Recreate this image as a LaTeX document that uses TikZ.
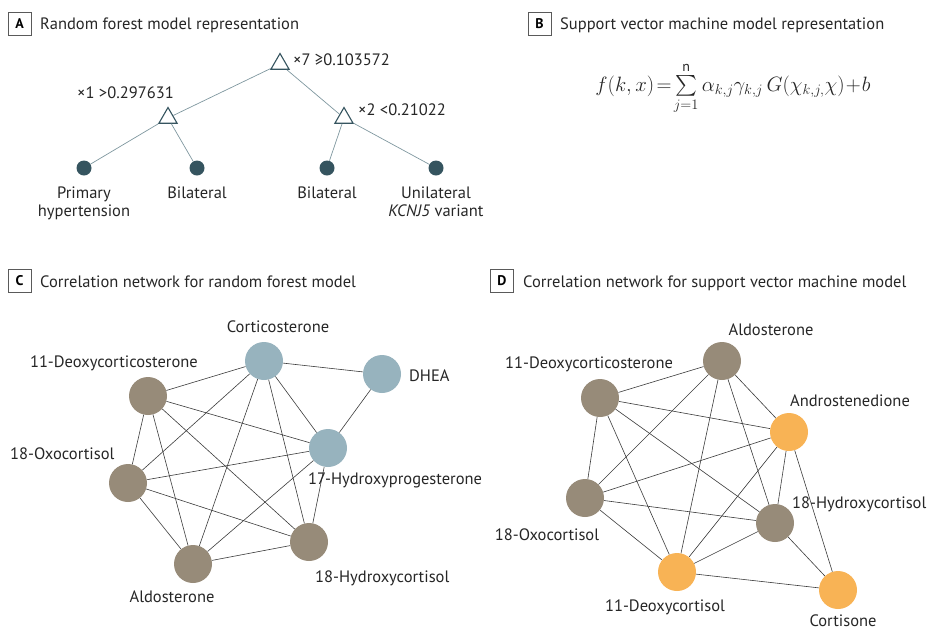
\documentclass[tikz,border=0pt]{standalone}
\usepackage{fontspec,amsmath}
\setmainfont{PT Sans}
\usetikzlibrary{shapes.geometric}

\definecolor{treeteal}{HTML}{35545F}
\definecolor{treeline}{HTML}{7F979F}
\definecolor{hormblue}{HTML}{97B3BE}
\definecolor{hormtaupe}{HTML}{978B79}
\definecolor{hormorange}{HTML}{F8B355}
\definecolor{netline}{HTML}{3A3A3A}
\definecolor{boxgray}{HTML}{5A5A5A}

\begin{document}
\begin{tikzpicture}[x=1pt, y=-1pt,
        font=\fontsize{16.5}{19}\selectfont,
        lbl/.style={inner sep=0pt, text=black!85},
        panelbox/.style={draw=boxgray, line width=0.8pt, minimum size=23pt,
            inner sep=0pt, font=\fontsize{14}{16}\selectfont\bfseries},
        splitnode/.style={regular polygon, regular polygon sides=3, draw=treeteal,
            fill=white, line width=1.1pt, minimum size=21pt, inner sep=0pt},
        leafnode/.style={circle, fill=treeteal, minimum size=15pt, inner sep=0pt},
        treeedge/.style={draw=treeline, line width=0.7pt},
        bluenode/.style={circle, fill=hormblue, minimum size=38pt, inner sep=0pt},
        taupenode/.style={circle, fill=hormtaupe, minimum size=38pt, inner sep=0pt},
        orangenode/.style={circle, fill=hormorange, minimum size=38pt, inner sep=0pt},
        netedge/.style={draw=netline, line width=0.6pt}]
        \useasboundingbox (0,0) rectangle (933,630);

        % panel A: tree
        \node[panelbox] (boxA) at (19.5,23.5) {A};
        \node[lbl, anchor=base west] (titleA) at (40,29) {Random forest model representation};
        \node[splitnode] (root) at (280,64) {};
        \node[splitnode] (splitL) at (168,118) {};
        \node[splitnode] (splitR) at (344,118) {};
        \node[leafnode] (leafA) at (84,168) {};
        \node[leafnode] (leafB) at (197,168) {};
        \node[leafnode] (leafC) at (327,168) {};
        \node[leafnode] (leafD) at (436,168) {};
        \draw[treeedge] (root) -- (splitL);
        \draw[treeedge] (root) -- (splitR);
        \draw[treeedge] (splitL) -- (leafA);
        \draw[treeedge] (splitL) -- (leafB);
        \draw[treeedge] (splitR) -- (leafC);
        \draw[treeedge] (splitR) -- (leafD);
        \node[lbl, anchor=base west] (rootlbl) at (293,65) {×7 ≥0.103572};
        \node[lbl, anchor=base west] (splitLlbl) at (77,98) {×1 >0.297631};
        \node[lbl, anchor=base west] (splitRlbl) at (358,115) {×2 <0.21022};
        \node[lbl, anchor=base] (leafAlbl) at (84,198) {Primary};
        \node[lbl, anchor=base] (leafAlbl2) at (84,216) {hypertension};
        \node[lbl, anchor=base] (leafBlbl) at (197,198) {Bilateral};
        \node[lbl, anchor=base] (leafClbl) at (327,198) {Bilateral};
        \node[lbl, anchor=base] (leafDlbl) at (436,198) {Unilateral};
        \node[lbl, anchor=base] (leafDlbl2) at (436,216) {\textit{KCNJ5} variant};

        % panel B: formula
        \node[panelbox] (boxB) at (539.5,23.5) {B};
        \node[lbl, anchor=base west] (titleB) at (560,29) {Support vector machine model representation};
        \node[lbl, anchor=base, font=\fontsize{20}{24}\selectfont] (svmeq) at (733,91)
            {$f(k,x)\!=\!\sum\limits_{j=1}^{\mathrm{n}} \alpha_{k,j}\gamma_{k,j}\,G(\chi_{k,j,}\chi)\!+\!b$};

        % panel C: random forest network
        \node[panelbox] (boxC) at (19.5,281) {C};
        \node[lbl, anchor=base west] (titleC) at (40,287) {Correlation network for random forest model};
        \node[bluenode] (cCort) at (264,361) {};
        \node[bluenode] (cDhea) at (382,374) {};
        \node[taupenode] (cDoc) at (148,396) {};
        \node[bluenode] (cOhp) at (328,448) {};
        \node[taupenode] (cOxo) at (128,483) {};
        \node[taupenode] (cOhc) at (309,542) {};
        \node[taupenode] (cAldo) at (193,564) {};
        \draw[netedge] (cCort) -- (cDhea) (cCort) -- (cDoc) (cCort) -- (cOxo)
            (cCort) -- (cAldo) (cCort) -- (cOhc) (cCort) -- (cOhp);
        \draw[netedge] (cDhea) -- (cOhp);
        \draw[netedge] (cDoc) -- (cOhp) (cDoc) -- (cOxo) (cDoc) -- (cAldo) (cDoc) -- (cOhc);
        \draw[netedge] (cOxo) -- (cOhp) (cOxo) -- (cOhc) (cOxo) -- (cAldo);
        \draw[netedge] (cAldo) -- (cOhc) (cAldo) -- (cOhp) (cOhp) -- (cOhc);
        \node[lbl, anchor=base] (cCortlbl) at (278,332) {Corticosterone};
        \node[lbl, anchor=base west] (cDhealbl) at (409,381) {DHEA};
        \node[lbl, anchor=base east] (cDoclbl) at (198,367) {11-Deoxycorticosterone};
        \node[lbl, anchor=base west] (cOxolbl) at (10,459) {18-Oxocortisol};
        \node[lbl, anchor=base west] (cOhplbl) at (308,484) {17-Hydroxyprogesterone};
        \node[lbl, anchor=base west] (cOhclbl) at (315,582) {18-Hydroxycortisol};
        \node[lbl, anchor=base] (cAldolbl) at (172,602) {Aldosterone};

        % panel D: support vector machine network
        \node[panelbox] (boxD) at (502,281) {D};
        \node[lbl, anchor=base west] (titleD) at (523,287) {Correlation network for support vector machine model};
        \node[taupenode] (dAldo) at (722,361) {};
        \node[taupenode] (dDoc) at (600,398) {};
        \node[orangenode] (dAndro) at (789,432) {};
        \node[taupenode] (dOxo) at (585,498) {};
        \node[taupenode] (dOhc) at (775,523) {};
        \node[orangenode] (dDcort) at (677,572) {};
        \node[orangenode] (dCortis) at (838,590) {};
        \draw[netedge] (dDoc) -- (dAldo) (dDoc) -- (dAndro) (dDoc) -- (dOxo)
            (dDoc) -- (dDcort) (dDoc) -- (dOhc);
        \draw[netedge] (dAldo) -- (dOxo) (dAldo) -- (dDcort) (dAldo) -- (dOhc) (dAldo) -- (dAndro);
        \draw[netedge] (dAndro) -- (dOxo) (dAndro) -- (dDcort) (dAndro) -- (dOhc) (dAndro) -- (dCortis);
        \draw[netedge] (dOxo) -- (dOhc) (dOxo) -- (dDcort);
        \draw[netedge] (dOhc) -- (dDcort) (dOhc) -- (dCortis) (dDcort) -- (dCortis);
        \node[lbl, anchor=base] (dAldolbl) at (771,335) {Aldosterone};
        \node[lbl, anchor=base] (dDoclbl) at (589,368) {11-Deoxycorticosterone};
        \node[lbl, anchor=base] (dAndrolbl) at (850,406) {Androstenedione};
        \node[lbl, anchor=base west] (dOhclbl) at (792,508) {18-Hydroxycortisol};
        \node[lbl, anchor=base] (dOxolbl) at (547,540) {18-Oxocortisol};
        \node[lbl, anchor=base] (dDcortlbl) at (665,611) {11-Deoxycortisol};
        \node[lbl, anchor=base] (dCortislbl) at (843,626) {Cortisone};
    \end{tikzpicture}
\end{document}
